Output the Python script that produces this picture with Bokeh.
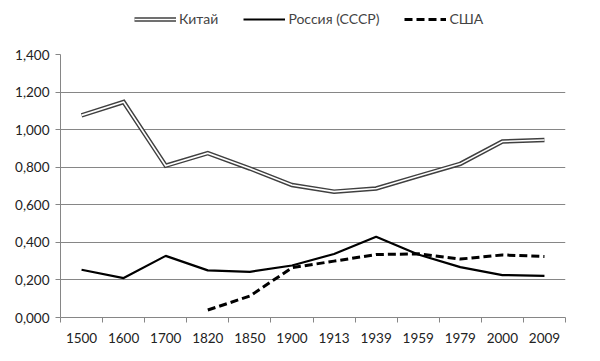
from bokeh.plotting import figure
from bokeh.layouts import column
from bokeh.models import (FixedTicker, CustomJSTickFormatter, Range1d, Legend, LegendItem)
from bokeh.embed import file_html
from bokeh.resources import INLINE

years = ["1500", "1600", "1700", "1820", "1850", "1900", "1913", "1939", "1959", "1979", "2000", "2009"]
china = [1.076, 1.147, 0.808, 0.875, 0.793, 0.705, 0.670, 0.687, 0.753, 0.818, 0.937, 0.945]
russia = [0.254, 0.210, 0.328, 0.251, 0.243, 0.277, 0.338, 0.430, 0.335, 0.268, 0.226, 0.222]
usa_years = ["1820", "1850", "1900", "1913", "1939", "1959", "1979", "2000", "2009"]
usa = [0.040, 0.114, 0.265, 0.300, 0.335, 0.339, 0.311, 0.333, 0.325]
series_names = ["Китай", "Россия (СССР)", "США"]

FONT = "Lato"
GRAY = "#868686"
W = 584

xi = [years.index(y) + 0.5 for y in years]
xu = [years.index(y) + 0.5 for y in usa_years]

def draw_china(fig, xs, ys):
    a = fig.line(xs, ys, line_color="#404040", line_width=4.5, line_join="miter")
    b = fig.line(xs, ys, line_color="white", line_width=1.6, line_join="miter")
    return [a, b]

def draw_russia(fig, xs, ys):
    return [fig.line(xs, ys, line_color="black", line_width=2.2)]

def draw_usa(fig, xs, ys):
    return [fig.line(xs, ys, line_color="black", line_width=3, line_dash="8 4")]

# ---- main chart
p = figure(width=W, height=307, output_backend="svg", toolbar_location=None,
           x_range=Range1d(0, len(years)), y_range=Range1d(0, 1.4),
           min_border_left=60, min_border_right=19, min_border_top=16, min_border_bottom=26)
p.outline_line_color = None

p.xaxis.ticker = FixedTicker(ticks=xi, minor_ticks=list(range(len(years) + 1)))
p.xaxis.major_label_overrides = {x: y for x, y in zip(xi, years)}
p.xaxis.major_tick_out = 0
p.xaxis.major_tick_in = 0
p.xaxis.minor_tick_out = 5
p.xaxis.minor_tick_in = 0
p.xaxis.minor_tick_line_color = GRAY
p.xaxis.axis_line_color = GRAY
p.xaxis.major_label_standoff = 10
p.xgrid.visible = False

yt = [0, 0.2, 0.4, 0.6, 0.8, 1.0, 1.2, 1.4]
p.yaxis.ticker = FixedTicker(ticks=yt, minor_ticks=[])
p.yaxis.formatter = CustomJSTickFormatter(code="return tick.toFixed(3).replace('.', ',');")
p.yaxis.major_tick_out = 5
p.yaxis.major_tick_in = 0
p.yaxis.major_tick_line_color = GRAY
p.yaxis.axis_line_color = GRAY
p.yaxis.major_label_standoff = 6
p.ygrid.grid_line_color = GRAY
p.ygrid.ticker = FixedTicker(ticks=yt)

for ax in (p.xaxis, p.yaxis):
    ax.major_label_text_font = FONT
    ax.major_label_text_font_size = "13.5px"
    ax.major_label_text_color = "#222222"

draw_china(p, xi, china)
draw_russia(p, xi, russia)
draw_usa(p, xu, usa)

# ---- legend strip (its renderers hold points outside its visible range)
lg = figure(width=W, height=38, output_backend="svg", toolbar_location=None,
            x_range=Range1d(0, 1), y_range=Range1d(0, 1),
            min_border_left=0, min_border_right=0, min_border_top=0, min_border_bottom=0)
lg.axis.visible = False
lg.grid.visible = False
lg.outline_line_color = None
off = [-5, -4]
rc = draw_china(lg, off, off)
rr = draw_russia(lg, off, off)
ru = draw_usa(lg, off, off)
legend = Legend(items=[LegendItem(label=series_names[0], renderers=rc),
                       LegendItem(label=series_names[1], renderers=rr),
                       LegendItem(label=series_names[2], renderers=ru)],
                orientation="horizontal", location=(74, 11),
                label_text_font=FONT, label_text_font_size="14px",
                glyph_width=42, glyph_height=14, label_standoff=3, spacing=25,
                padding=0, margin=0, background_fill_alpha=0, border_line_color=None)
lg.add_layout(legend, "center")

layout = column(lg, p, spacing=0)

open("out.html", "w").write(file_html(layout, INLINE))
